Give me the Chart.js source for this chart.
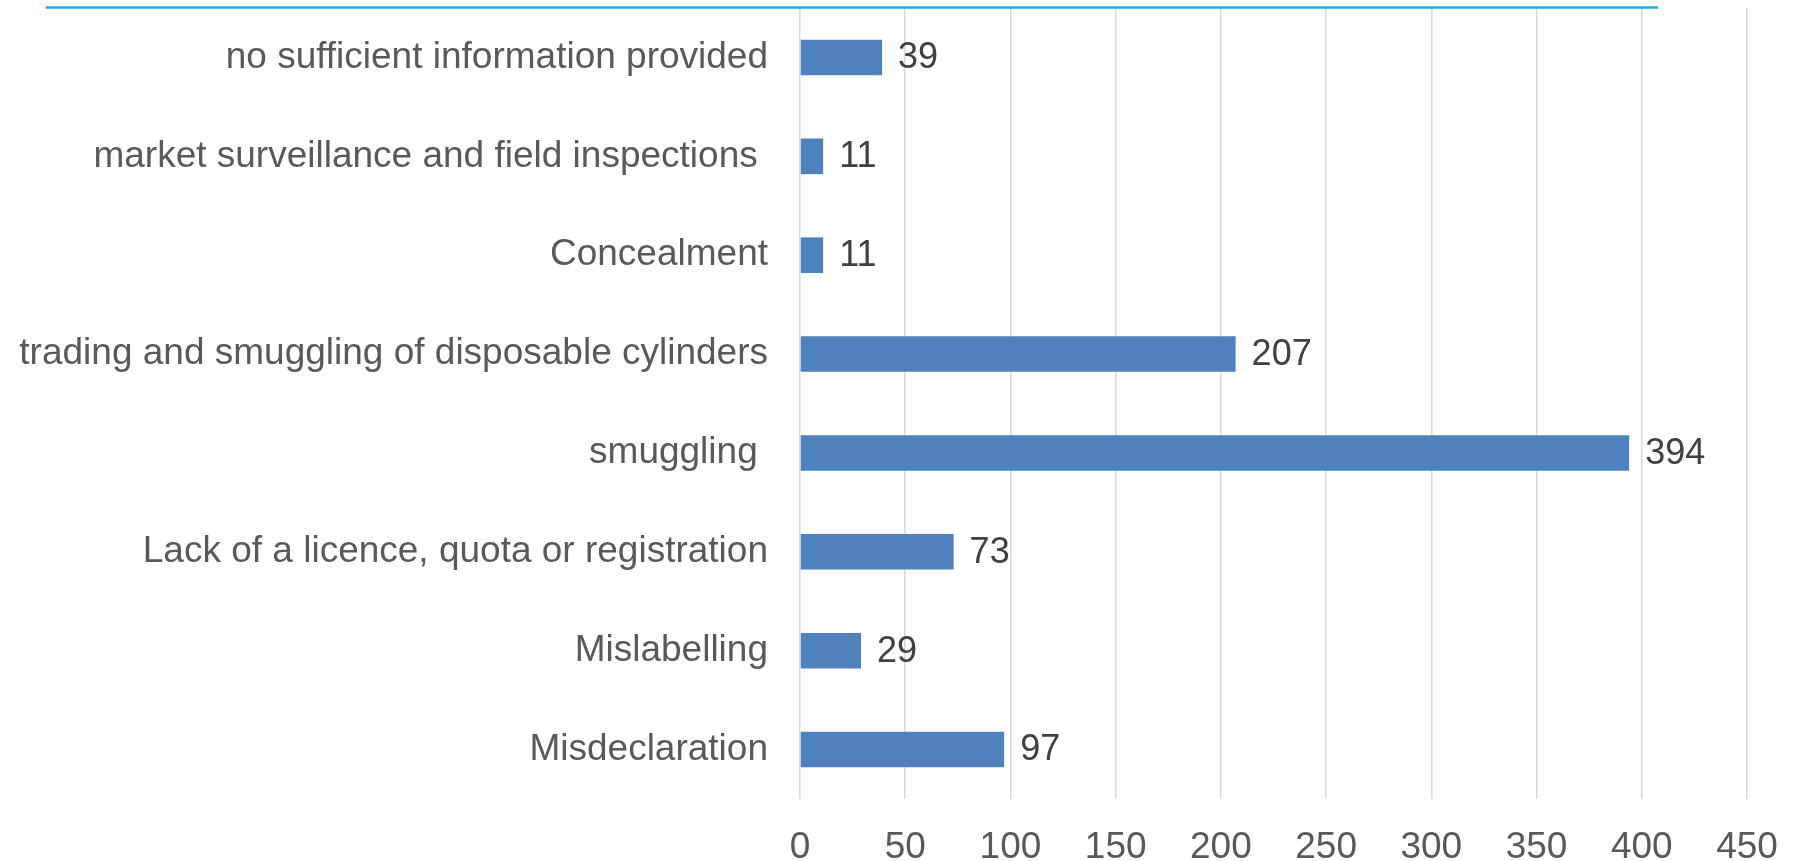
<!DOCTYPE html>
<html>
<head>
<meta charset="utf-8">
<title>Cases by type</title>
<script src="https://cdn.jsdelivr.net/npm/chart.js@4/dist/chart.umd.min.js"></script>
<style>
  html, body { margin: 0; padding: 0; background: #fff; }
  #wrap { width: 1793px; height: 861px; }
</style>
</head>
<body>
<div id="wrap"><canvas id="cases" width="1793" height="861"></canvas></div>
<script>
(function() {
  "use strict";

  // categories, top to bottom (trailing spaces are in the original labels)
  const categories = [
    "no sufficient information provided",
    "market surveillance and field inspections ",
    "Concealment",
    "trading and smuggling of disposable cylinders",
    "smuggling ",
    "Lack of a licence, quota or registration",
    "Mislabelling",
    "Misdeclaration"
  ];
  const caseCounts = [39, 11, 11, 207, 394, 73, 29, 97];
  const xTicks = [0, 50, 100, 150, 200, 250, 300, 350, 400, 450];

  const fontFamily = "'Liberation Sans', Arial, Helvetica, sans-serif";

  // value labels at the end of each bar
  const valueLabels = {
    id: 'valueLabels',
    afterDatasetsDraw: function(chart) {
      let ctx = chart.ctx;
      let meta = chart.getDatasetMeta(0);
      ctx.save();
      ctx.font = "36px " + fontFamily;
      ctx.fillStyle = "#404040";
      ctx.textAlign = "left";
      ctx.textBaseline = "middle";
      meta.data.forEach(function(bar, i) {
        ctx.fillText(String(chart.data.datasets[0].data[i]), bar.x + 16, bar.y + 1);
      });
      ctx.restore();
    }
  };

  // thin blue rule along the top
  const topRule = {
    id: 'topRule',
    afterDraw: function(chart) {
      let ctx = chart.ctx;
      ctx.save();
      ctx.strokeStyle = "#17b0ea";
      ctx.lineWidth = 2.5;
      ctx.beginPath();
      ctx.moveTo(46, 7.5);
      ctx.lineTo(1658, 7.5);
      ctx.stroke();
      ctx.restore();
    }
  };

  new Chart(document.getElementById('cases'), {
    type: 'bar',
    data: {
      labels: categories,
      datasets: [{
        label: "Cases",
        data: caseCounts,
        backgroundColor: "#4f81bd",
        borderWidth: 0,
        barPercentage: 0.36,
        categoryPercentage: 1
      }]
    },
    options: {
      indexAxis: 'y',
      responsive: false,
      animation: false,
      events: [],
      layout: {
        padding: { top: 8, right: 46, left: 0, bottom: 0 }
      },
      plugins: {
        legend: { display: false },
        tooltip: { enabled: false }
      },
      scales: {
        x: {
          min: xTicks[0],
          max: xTicks[xTicks.length - 1],
          afterBuildTicks: function(scale) {
            scale.ticks = xTicks.map(function(v) { return { value: v }; });
          },
          afterFit: function(scale) { scale.height = 62; },
          grid: {
            color: "#d9d9d9",
            lineWidth: 1.5,
            drawTicks: true,
            tickLength: 27,
            tickColor: "transparent"
          },
          border: { display: false },
          ticks: {
            padding: 0,
            color: "#595959",
            font: { family: fontFamily, size: 37 }
          }
        },
        y: {
          afterFit: function(scale) {
            scale.width = 800;
            // don't let the label height push the plot down
            scale.paddingTop = 0;
            scale.paddingBottom = 0;
          },
          grid: {
            display: true,
            drawOnChartArea: false,
            drawTicks: true,
            tickLength: 32,
            color: "transparent",
            tickColor: "transparent"
          },
          border: { display: false },
          ticks: {
            padding: 0,
            color: "#595959",
            font: { family: fontFamily, size: 37 }
          }
        }
      }
    },
    plugins: [valueLabels, topRule]
  });
})();
</script>
</body>
</html>
